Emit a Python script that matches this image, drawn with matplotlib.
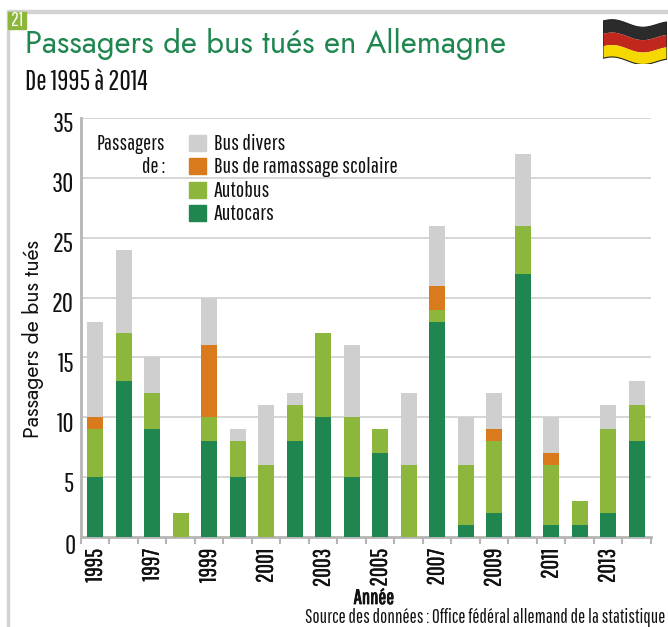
#!/usr/bin/python3
import matplotlib
matplotlib.use("Agg")
import matplotlib.pyplot as plt
from matplotlib import font_manager as fm
from matplotlib import patheffects
from matplotlib.patches import Rectangle, Polygon
import numpy as np

W, H = 668, 627
GREEN = '#1f8650'
INK = '#111111'

years = list(range(1995, 2015))
autocars = [5, 13, 9, 0, 8, 5, 0, 8, 10, 5, 7, 0, 18, 1, 2, 22, 1, 1, 2, 8]
autobus = [4, 4, 3, 2, 2, 3, 6, 3, 7, 5, 2, 6, 1, 5, 6, 4, 5, 2, 7, 3]
scolaire = [1, 0, 0, 0, 6, 0, 0, 0, 0, 0, 0, 0, 2, 0, 1, 0, 1, 0, 0, 0]
divers = [8, 7, 3, 0, 4, 1, 5, 1, 0, 6, 0, 6, 5, 4, 3, 6, 3, 0, 2, 2]
series = [autocars, autobus, scolaire, divers]
colors = [GREEN, '#8db63c', '#d97b1c', '#cfcfcf']
legend_labels = ['Bus divers', 'Bus de ramassage scolaire', 'Autobus', 'Autocars']
legend_colors = colors[::-1]
yticks = [5, 10, 15, 20, 25, 30, 35]


def pick(names):
    # first family that is really installed, DejaVu as the last resort
    for n in names:
        try:
            fm.findfont(n, fallback_to_default=False)
            return [n, 'DejaVu Sans']
        except ValueError:
            pass
    return ['DejaVu Sans']


NARROW = pick(['Pathway Gothic One', 'Archivo Narrow', 'Roboto Condensed', 'Roboto'])
ROUND = pick(['Jost', 'Lato'])
BOLD = [patheffects.withStroke(linewidth=0.6, foreground=INK)]
SEMI = [patheffects.withStroke(linewidth=0.3, foreground=INK)]


def fx(x):
    return x / W


def fy(y):
    return 1 - y / H


fig = plt.figure(figsize=(W / 100, H / 100), dpi=100)

# page frame and number tab
fig.add_artist(Rectangle((fx(6.5), 0), 2 / W, fy(11), color='#d2d2d2', transform=fig.transFigure))
fig.add_artist(Rectangle((fx(6.5), fy(13)), 1 - fx(6.5), 2.5 / H, color='#d2d2d2', transform=fig.transFigure))
fig.add_artist(Rectangle((fx(8), fy(29)), 18 / W, 17 / H, color='#8db63c', transform=fig.transFigure))
fig.text(fx(17), fy(21), '21', color='white', fontsize=14, family=NARROW, ha='center', va='center')

fig.text(fx(25), fy(44), 'Passagers de bus tués en Allemagne', color=GREEN, fontsize=22.4,
         family=ROUND, ha='left', va='center')
fig.text(fx(25), fy(82), 'De 1995 à 2014', color=INK, fontsize=20, family=NARROW, ha='left', va='center')

ax = fig.add_axes([fx(81), fy(537), 570 / W, (537 - 118) / H])
bottom = np.zeros(len(years))
for vals, col in zip(series, colors):
    ax.bar(years, vals, width=0.56, bottom=bottom, color=col, zorder=3)
    bottom = bottom + np.array(vals)

ax.set_xlim(1994.5, 2014.5)
ax.set_ylim(0, 35)
ax.set_yticks(yticks)
ax.set_yticklabels([])
# the numbers sit a little under their grid lines
for v in yticks:
    ax.annotate(str(v), (0, v), xycoords=ax.get_yaxis_transform(), xytext=(-5, -5),
                textcoords='offset points', ha='right', va='center', fontsize=19.5,
                family=NARROW, color=INK, annotation_clip=False)
ax.grid(axis='y', color='#cfcfcf', lw=1.2, zorder=0)
ax.tick_params(axis='y', length=0)
ax.set_xticks(np.arange(1994.5, 2015, 1))
ax.set_xticklabels([])
ax.tick_params(axis='x', length=5, width=1.5, color='#b5b5b5')
for yr in years[::2]:
    ax.text(yr, -1.0, str(yr), rotation=90, ha='center', va='top', fontsize=17,
            family=NARROW, color=INK, path_effects=SEMI)
for s in ['top', 'right']:
    ax.spines[s].set_visible(False)
for s in ['left', 'bottom']:
    ax.spines[s].set_color('#b5b5b5')
    ax.spines[s].set_linewidth(2)

fig.text(fx(76), fy(547), '0', fontsize=19.5, family=NARROW, color=INK, ha='right', va='center')
fig.text(fx(33), fy(339), 'Passagers de bus tués', rotation=90, fontsize=15.3, family=ROUND,
         color=INK, ha='center', va='center')
fig.text(fx(374), fy(598), 'Année', fontsize=15, family=NARROW, color=INK,
         ha='center', va='center', path_effects=BOLD)
fig.text(fx(665), fy(617.5), 'Source des données : Office fédéral allemand de la statistique',
         fontsize=13.7, family=NARROW, color=INK, ha='right', va='center')

# legend
fig.text(fx(165), fy(144), 'Passagers', fontsize=15.6, family=NARROW, color=INK, ha='right', va='center')
fig.text(fx(165), fy(167), 'de :', fontsize=15.6, family=NARROW, color=INK, ha='right', va='center')
for i, (lab, col) in enumerate(zip(legend_labels, legend_colors)):
    yc = 143 + i * 23.3
    fig.add_artist(Rectangle((fx(189), fy(yc + 8)), 17 / W, 16 / H, color=col, transform=fig.transFigure))
    fig.text(fx(214), fy(yc + 1), lab, fontsize=16, family=NARROW, color=INK, ha='left', va='center')

# flag
fax = fig.add_axes([fx(603), fy(64), 64 / W, 46 / H])
fax.set_xlim(0, 1)
fax.set_ylim(0, 1)
fax.axis('off')
t = np.linspace(0, 1, 60)
wave = 0.07 * np.sin(t * 2 * np.pi * 1.1 + 0.5) - 0.05 * t
bands = ['#2b2b2b', '#c0281e', '#f5d800']
edge = [0.90, 0.62, 0.35, 0.09]
for i, col in enumerate(bands):
    pts = np.column_stack([np.r_[t, t[::-1]], np.r_[edge[i] + wave, (edge[i + 1] + wave)[::-1]]])
    fax.add_patch(Polygon(pts, closed=True, color=col, lw=0))
outline = np.column_stack([np.r_[t, t[::-1]], np.r_[edge[0] + wave, (edge[3] + wave)[::-1]]])
fax.add_patch(Polygon(outline, closed=True, fill=False, ec='#222222', lw=0.8))

fig.savefig('out.png', dpi=100)
